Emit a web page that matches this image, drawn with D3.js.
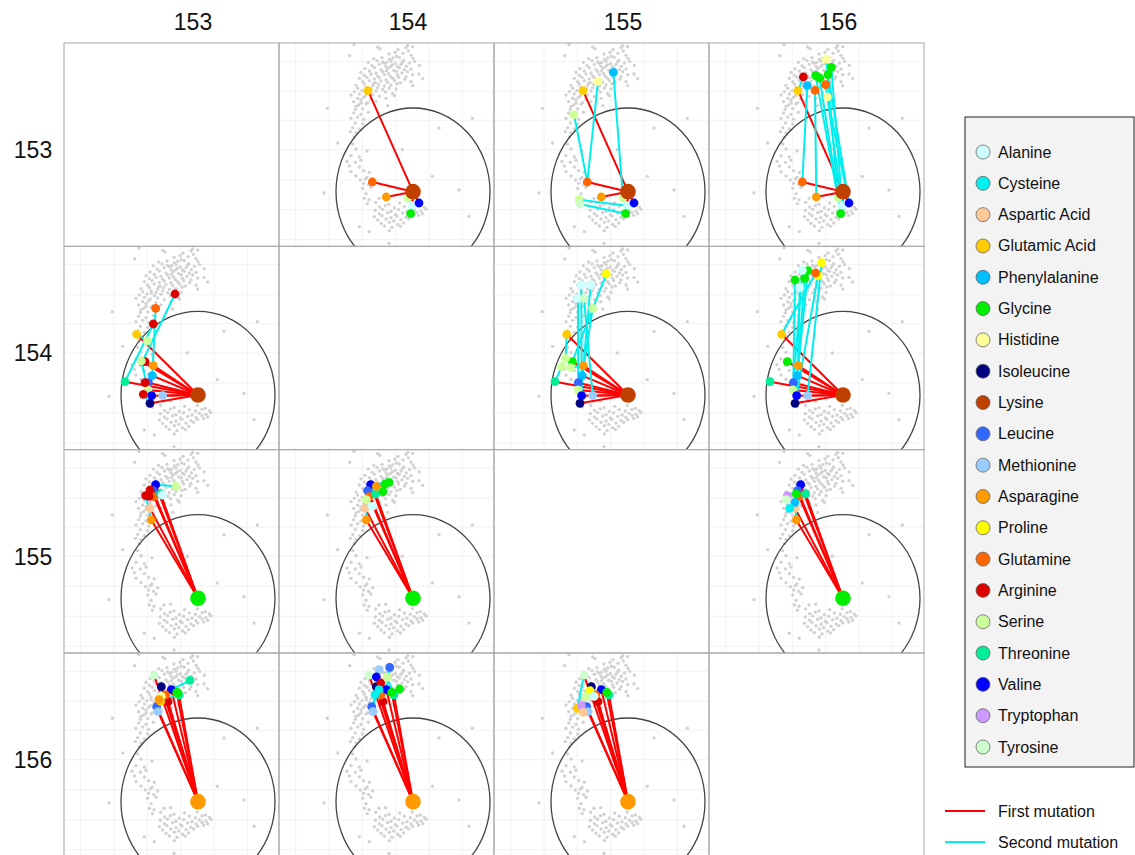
<!DOCTYPE html>
<html>
<head>
<meta charset="utf-8">
<script src="https://cdn.jsdelivr.net/npm/d3@7"></script>
<style>
  body { margin: 0; background: #fff; }
  text { font-family: "Liberation Sans", Arial, sans-serif; }
</style>
</head>
<body>
<svg id="chart" width="1135" height="855"></svg>
<script>
// ---- residue positions and amino-acid palette ----
const positions = ["153", "154", "155", "156"];
const aminoAcids = ["Alanine", "Cysteine", "Aspartic Acid", "Glutamic Acid", "Phenylalanine",
  "Glycine", "Histidine", "Isoleucine", "Lysine", "Leucine", "Methionine", "Asparagine",
  "Proline", "Glutamine", "Arginine", "Serine", "Threonine", "Valine", "Tryptophan", "Tyrosine"];
const aaColors = ["#ccffff", "#00f0f0", "#ffc896", "#ffcc00", "#00bfff",
  "#00ee00", "#ffff99", "#000080", "#c04000", "#3366ff", "#99ccff", "#ff9900",
  "#ffff00", "#ff6600", "#dd0000", "#ccff99", "#00ee99", "#0000ff", "#cc99ff", "#ccffcc"];
const wildType = ["Lysine", "Lysine", "Glycine", "Asparagine"];

// ---- embedding space (shared by every panel) ----
const wtPoint = [402, 446];
const ring = { rx: 231, ry: 251 };
const gridX = [50, 150, 250, 350, 450, 550];
const gridY = [55, 145, 232, 320, 410, 500, 590];

// background variants in the embedding
const cloud = [
  [225, 5], [296, 12], [303, 17], [386, 8], [357, 20], [381, 14], [401, 11],
  [212, 38], [348, 28], [388, 24], [396, 37], [352, 40], [330, 33], [372, 31],
  [284, 47], [309, 44], [331, 49], [361, 43], [374, 52], [402, 46], [323, 58], [341, 45],
  [268, 58], [294, 53], [316, 61], [336, 55], [349, 62], [371, 57], [391, 60], [407, 55],
  [279, 68], [301, 64], [321, 70], [340, 66], [356, 71], [366, 64], [382, 70], [421, 67], [311, 57],
  [258, 77], [286, 74], [306, 80], [327, 76], [344, 82], [361, 75], [376, 80], [396, 78], [335, 71],
  [246, 88], [271, 84], [291, 90], [311, 86], [329, 92], [352, 85], [369, 90], [386, 86], [420, 93],
  [256, 97], [276, 93], [296, 99], [316, 95], [334, 100], [356, 96], [381, 101], [401, 95], [322, 84],
  [241, 106], [264, 103], [286, 108], [301, 104], [321, 110], [341, 106], [359, 103], [377, 109], [431, 107],
  [251, 116], [271, 113], [289, 119], [306, 114], [326, 118], [346, 113], [364, 119], [396, 116],
  [231, 127], [256, 123], [281, 128], [299, 124], [316, 129], [336, 126], [354, 122], [401, 128],
  [236, 136], [261, 133], [276, 138], [296, 134], [311, 139], [331, 135], [351, 138], [284, 121],
  [226, 146], [249, 143], [271, 148], [291, 144], [319, 147], [341, 152], [262, 140],
  [216, 156], [241, 153], [259, 158], [281, 155], [301, 160], [346, 158],
  [236, 166], [254, 163], [276, 169], [321, 166], [246, 171],
  [224, 176], [246, 180], [266, 179], [291, 176],
  [239, 186], [261, 183], [326, 188], [231, 190],
  [145, 196], [229, 199], [251, 197],
  [224, 210], [246, 214], [268, 208],
  [216, 226], [236, 222], [254, 229], [580, 226],
  [229, 240], [251, 243],
  [221, 254], [241, 258], [480, 255],
  [214, 266], [231, 270],
  [226, 282],
  [176, 300], [221, 303],
  [231, 318], [264, 324], [370, 320],
  [216, 338], [241, 342],
  [204, 355], [229, 358], [246, 352],
  [211, 369], [241, 372],
  [216, 386], [254, 383], [271, 388],
  [231, 399], [264, 403], [460, 400],
  [244, 411], [259, 408], [281, 414],
  [254, 421], [269, 425],
  [251, 436], [276, 433],
  [135, 450], [261, 452], [320, 464], [540, 441],
  [256, 466], [270, 470], [300, 466],
  [265, 482], [290, 478], [330, 484], [362, 480], [400, 477], [424, 486],
  [302, 492], [319, 488], [346, 495], [376, 490], [394, 494], [414, 489], [436, 493],
  [289, 502], [311, 499], [336, 505], [359, 500], [384, 506], [406, 501], [426, 504], [441, 499],
  [301, 512], [326, 509], [349, 515], [371, 510], [396, 513], [414, 508], [431, 512],
  [286, 521], [309, 518], [336, 524], [354, 519], [381, 523], [401, 520], [419, 517], [570, 520],
  [296, 531], [321, 528], [344, 534], [366, 530], [389, 528],
  [306, 541], [331, 538], [356, 544], [374, 540],
  [241, 551], [316, 549], [339, 553], [364, 550],
  [271, 566], [331, 563],
  [330, 601]
];

// ---- single mutants (first mutation at the row position): [amino acid, x, y] ----
const singles153 = [["Glutamic Acid", 267, 143], ["Glutamine", 280, 417], ["Asparagine", 322, 462],
  ["Serine", 387, 465], ["Alanine", 400, 488], ["Valine", 420, 480], ["Glycine", 395, 512]];
const singles154 = [["Glutamic Acid", 218, 264], ["Threonine", 183, 406], ["Glycine", 235, 346],
  ["Asparagine", 268, 358], ["Phenylalanine", 265, 388], ["Leucine", 253, 409], ["Serine", 252, 431],
  ["Valine", 263, 448], ["Isoleucine", 258, 471], ["Methionine", 296, 448]];
const singles155 = [["Valine", 275, 105], ["Leucine", 266, 123], ["Glutamine", 270, 141],
  ["Threonine", 290, 133], ["Aspartic Acid", 258, 176], ["Asparagine", 262, 211]];
const singles156 = [["Tyrosine", 270, 66], ["Isoleucine", 292, 101], ["Valine", 322, 110],
  ["Threonine", 345, 126], ["Glycine", 338, 118], ["Arginine", 312, 146], ["Glutamine", 305, 126],
  ["Leucine", 278, 161], ["Methionine", 282, 176]];

// ---- double mutants (second mutation at the column position): [amino acid, x, y, first mutation] ----
const doubles153x154 = [];
const doubles153x155 = [["Phenylalanine", 358, 88, "Serine"], ["Histidine", 312, 115, "Glutamine"],
  ["Serine", 240, 215, "Glutamine"], ["Serine", 255, 470, "Alanine"], ["Tyrosine", 258, 483, "Glycine"]];
const doubles153x156 = [["Histidine", 352, 48, "Serine"], ["Glycine", 367, 73, "Alanine"],
  ["Glycine", 357, 95, "Valine"], ["Glycine", 320, 98, "Serine"], ["Glycine", 332, 105, "Glycine"],
  ["Arginine", 283, 102, "Glutamic Acid"], ["Phenylalanine", 295, 128, "Glutamine"],
  ["Glutamine", 318, 142, "Asparagine"], ["Glutamine", 350, 125, "Alanine"], ["Histidine", 355, 162, "Valine"]];
const doubles154x153 = [["Arginine", 333, 143, "Glycine"], ["Glutamine", 275, 186, "Phenylalanine"],
  ["Arginine", 268, 233, "Threonine"], ["Arginine", 243, 346, "Asparagine"], ["Arginine", 243, 409, "Leucine"],
  ["Arginine", 238, 444, "Isoleucine"], ["Serine", 250, 284, "Glutamic Acid"], ["Serine", 232, 344, "Serine"]];
const doubles154x155 = [["Proline", 337, 83, "Glycine"], ["Alanine", 262, 116, "Valine"],
  ["Alanine", 290, 116, "Isoleucine"], ["Alanine", 252, 156, "Leucine"], ["Serine", 296, 186, "Phenylalanine"],
  ["Tyrosine", 270, 156, "Methionine"], ["Serine", 215, 336, "Glutamic Acid"], ["Serine", 203, 361, "Threonine"],
  ["Serine", 230, 364, "Asparagine"]];
const doubles154x156 = [["Proline", 338, 49, "Methionine"], ["Proline", 327, 88, "Valine"],
  ["Glycine", 297, 73, "Phenylalanine"], ["Glycine", 287, 96, "Isoleucine"], ["Glycine", 258, 101, "Leucine"],
  ["Alanine", 280, 72, "Serine"], ["Alanine", 272, 124, "Asparagine"], ["Glutamine", 320, 80, "Glutamic Acid"]];
const doubles155x153 = [["Serine", 336, 110, "Valine"], ["Arginine", 258, 121, "Leucine"],
  ["Arginine", 245, 138, "Asparagine"], ["Alanine", 295, 136, "Threonine"], ["Arginine", 255, 140, "Glutamine"]];
const doubles155x154 = [["Glycine", 330, 98, "Valine"], ["Glycine", 318, 103, "Leucine"],
  ["Glycine", 312, 126, "Threonine"], ["Asparagine", 292, 110, "Glutamine"], ["Serine", 262, 150, "Asparagine"],
  ["Alanine", 280, 170, "Aspartic Acid"]];
const doubles155x156 = [["Glycine", 262, 133, "Glutamine"], ["Tryptophan", 235, 138, "Leucine"],
  ["Tyrosine", 232, 150, "Valine"], ["Phenylalanine", 258, 158, "Asparagine"], ["Cysteine", 242, 176, "Aspartic Acid"]];
const doubles156x153 = [["Threonine", 378, 82, "Valine"], ["Histidine", 292, 130, "Glutamine"],
  ["Glutamic Acid", 290, 145, "Methionine"], ["Glycine", 342, 120, "Leucine"], ["Asparagine", 285, 140, "Isoleucine"]];
const doubles156x154 = [["Leucine", 332, 43, "Valine"], ["Methionine", 300, 50, "Isoleucine"],
  ["Valine", 292, 72, "Tyrosine"], ["Serine", 325, 73, "Threonine"], ["Glycine", 362, 108, "Glutamine"],
  ["Arginine", 305, 90, "Glycine"], ["Cysteine", 300, 110, "Leucine"], ["Cysteine", 288, 125, "Methionine"]];
const doubles156x155 = [["Glutamic Acid", 250, 166, "Tyrosine"], ["Proline", 288, 113, "Isoleucine"],
  ["Serine", 276, 130, "Glutamine"], ["Tryptophan", 262, 158, "Leucine"], ["Aspartic Acid", 268, 178, "Methionine"],
  ["Alanine", 300, 130, "Arginine"]];

const legendLines = [["First mutation", "#ff0000"], ["Second mutation", "#00eeee"]];

// ---- lookup tables assembled from the arrays above ----
const singlesByRow = [singles153, singles154, singles155, singles156];
const doublesByPanel = {
  "0-1": doubles153x154, "0-2": doubles153x155, "0-3": doubles153x156,
  "1-0": doubles154x153, "1-2": doubles154x155, "1-3": doubles154x156,
  "2-0": doubles155x153, "2-1": doubles155x154, "2-3": doubles155x156,
  "3-0": doubles156x153, "3-1": doubles156x154, "3-2": doubles156x155
};

// ---- layout ----
const svg = d3.select("#chart");
const gridLeft = 64, gridTop = 43, panelW = 215, panelH = 203.33;
const x = d3.scaleLinear().domain([0, 645]).range([0, panelW]);
const y = d3.scaleLinear().domain([0, 610]).range([0, panelH]);
const color = d3.scaleOrdinal().domain(aminoAcids).range(aaColors);

svg.append("defs").append("clipPath").attr("id", "panel-clip")
  .append("rect").attr("width", panelW).attr("height", panelH);

positions.forEach((rowPos, r) => {
  positions.forEach((colPos, c) => {
    const g = svg.append("g")
      .attr("transform", `translate(${gridLeft + c * panelW},${gridTop + r * panelH})`);
    if (r !== c) {
      const p = g.append("g").attr("clip-path", "url(#panel-clip)");
      p.selectAll("line.gx").data(gridX).join("line")
        .attr("x1", d => x(d)).attr("x2", d => x(d)).attr("y1", 0).attr("y2", panelH)
        .attr("stroke", "#efefef").attr("stroke-width", 0.8);
      p.selectAll("line.gy").data(gridY).join("line")
        .attr("y1", d => y(d)).attr("y2", d => y(d)).attr("x1", 0).attr("x2", panelW)
        .attr("stroke", "#efefef").attr("stroke-width", 0.8);
      p.append("g").selectAll("circle").data(cloud).join("circle")
        .attr("cx", d => x(d[0])).attr("cy", d => y(d[1])).attr("r", 1.7)
        .attr("fill", "#d2d2d2");
      p.append("ellipse")
        .attr("cx", x(wtPoint[0])).attr("cy", y(wtPoint[1]))
        .attr("rx", x(ring.rx) - x(0)).attr("ry", y(ring.ry) - y(0))
        .attr("fill", "none").attr("stroke", "#444").attr("stroke-width", 1.3);

      const singles = singlesByRow[r];
      const doubles = doublesByPanel[`${r}-${c}`];
      const byName = new Map(singles.map(s => [s[0], s]));

      p.append("g").selectAll("line").data(singles).join("line")
        .attr("x1", x(wtPoint[0])).attr("y1", y(wtPoint[1]))
        .attr("x2", d => x(d[1])).attr("y2", d => y(d[2]))
        .attr("stroke", "#ff0000").attr("stroke-width", 2);
      p.append("g").selectAll("line").data(doubles).join("line")
        .attr("x1", d => x(byName.get(d[3])[1])).attr("y1", d => y(byName.get(d[3])[2]))
        .attr("x2", d => x(d[1])).attr("y2", d => y(d[2]))
        .attr("stroke", "#00eeee").attr("stroke-width", 2);
      p.append("g").selectAll("circle").data(singles).join("circle")
        .attr("cx", d => x(d[1])).attr("cy", d => y(d[2])).attr("r", 4.4)
        .attr("fill", d => color(d[0]));
      p.append("circle")
        .attr("cx", x(wtPoint[0])).attr("cy", y(wtPoint[1])).attr("r", 7.8)
        .attr("fill", color(wildType[r]));
      p.append("g").selectAll("circle").data(doubles).join("circle")
        .attr("cx", d => x(d[1])).attr("cy", d => y(d[2])).attr("r", 4.4)
        .attr("fill", d => color(d[0]));
    }
    g.append("rect").attr("width", panelW).attr("height", panelH)
      .attr("fill", "none").attr("stroke", "#a8a8a8").attr("stroke-width", 1);
  });
});

// column and row headers
svg.selectAll("text.col").data(positions).join("text")
  .attr("x", (d, i) => gridLeft + i * panelW + 129).attr("y", 22)
  .attr("text-anchor", "middle").attr("dominant-baseline", "central")
  .attr("font-size", 23).attr("fill", "#111").text(d => d);
svg.selectAll("text.row").data(positions).join("text")
  .attr("x", 33).attr("y", (d, i) => gridTop + i * panelH + 107)
  .attr("text-anchor", "middle").attr("dominant-baseline", "central")
  .attr("font-size", 23).attr("fill", "#111").text(d => d);

// amino-acid legend
const legend = svg.append("g");
legend.append("rect").attr("x", 965).attr("y", 117).attr("width", 169).attr("height", 650)
  .attr("fill", "#f3f3f3").attr("stroke", "#222").attr("stroke-width", 1);
const ly = d3.scalePoint().domain(aminoAcids).range([152, 747]);
legend.selectAll("circle").data(aminoAcids).join("circle")
  .attr("cx", 983).attr("cy", d => ly(d)).attr("r", 7)
  .attr("fill", d => color(d)).attr("stroke", "#666").attr("stroke-width", 0.8);
legend.selectAll("text").data(aminoAcids).join("text")
  .attr("x", 998).attr("y", d => ly(d)).attr("dominant-baseline", "central")
  .attr("font-size", 16).attr("fill", "#111").text(d => d);

// mutation-order legend
const ml = svg.append("g");
const my = d3.scalePoint().domain(legendLines.map(d => d[0])).range([811, 842]);
ml.selectAll("line").data(legendLines).join("line")
  .attr("x1", 945).attr("x2", 985).attr("y1", d => my(d[0])).attr("y2", d => my(d[0]))
  .attr("stroke", d => d[1]).attr("stroke-width", 2);
ml.selectAll("text").data(legendLines).join("text")
  .attr("x", 998).attr("y", d => my(d[0])).attr("dominant-baseline", "central")
  .attr("font-size", 16).attr("fill", "#111").text(d => d[0]);
</script>
</body>
</html>
